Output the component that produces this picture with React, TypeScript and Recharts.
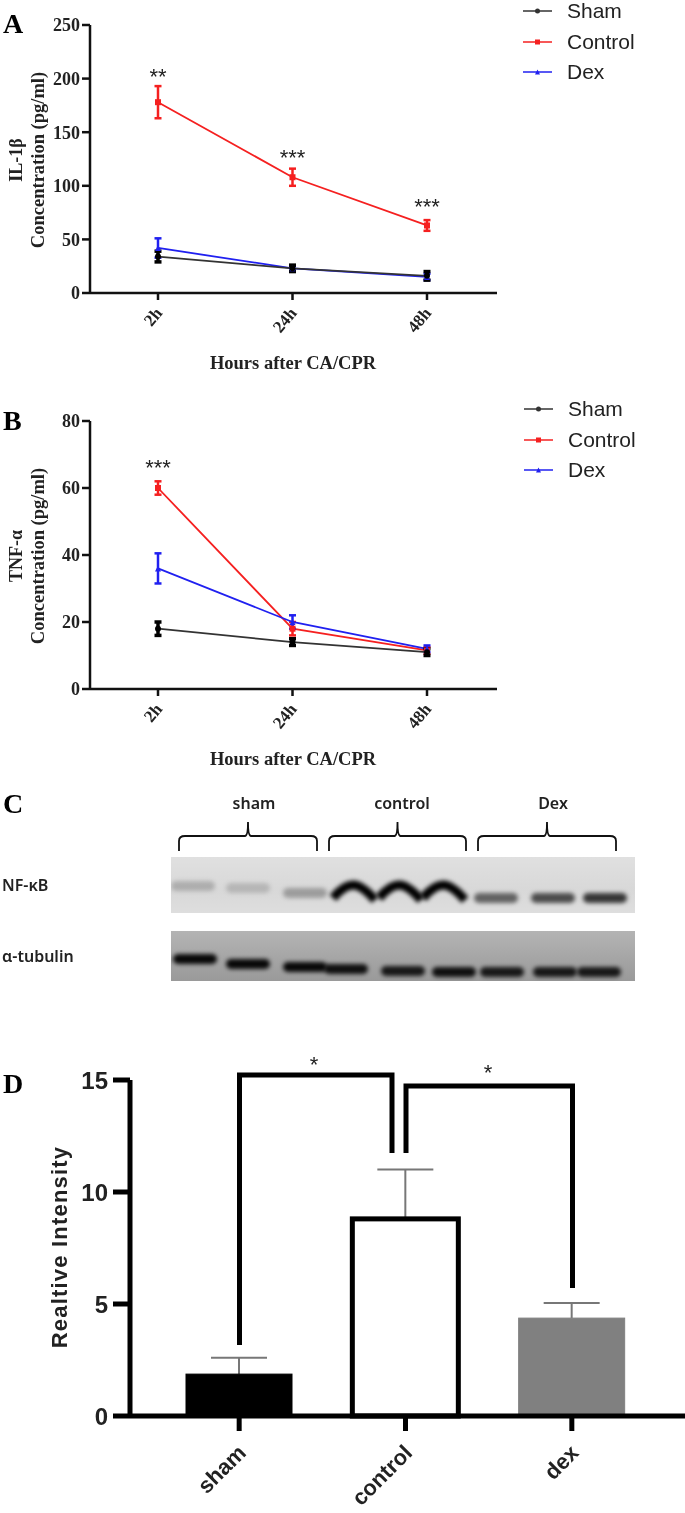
import { Bar, BarChart, ErrorBar, LabelList, Legend, Line, LineChart, Scatter, ScatterChart, XAxis, YAxis } from 'recharts';

const hours = ['2h', '24h', '48h'];

// panel A, IL-1beta
const il1Sham = [34, 23, 16];
const il1ShamErr = [5, 3, 4];
const il1Control = [178, 108, 63];
const il1ControlErr = [15, 8, 5];
const il1Dex = [42, 23, 15];
const il1DexErr = [9, 2, 3];
const il1Stars = ['**', '***', '***'];
const il1StarHeight = [203, 128, 82];

// panel B, TNF-alpha
const tnfSham = [18, 14, 11];
const tnfShamErr = [2, 1, 1];
const tnfControl = [60, 18, 11.5];
const tnfControlErr = [2, 2, 1];
const tnfDex = [36, 20, 12];
const tnfDexErr = [4.5, 2, 1];
const tnfStars = ['***', '', ''];
const tnfStarHeight = [66.7, 0, 0];

// panel C, band readings from the blot
const nfkbLanes = [193, 248, 305, 353, 399, 443, 496, 553, 605];
const nfkbMigration = [29, 31, 36, 33, 33, 33, 41, 41, 41];
const nfkbDarkness = [0.2, 0.16, 0.28, 1, 1, 1, 0.55, 0.65, 0.75];
const tubulinLanes = [195, 248, 305, 346, 403, 454, 502, 555, 599];
const tubulinMigration = [28, 33, 36, 38, 40, 41, 41, 41, 41];
const tubulinDarkness = [0.95, 0.95, 0.95, 0.9, 0.85, 0.9, 0.85, 0.85, 0.85];

// panel D
const groups = ['sham', 'control', 'dex'];
const intensity = [1.87, 8.8, 4.37];
const intensityErr = [0.73, 2.2, 0.68];

const legendOrder = ['Sham', 'Control', 'Dex'];

const il1Data = hours.map((h, i) => ({
  h,
  sham: il1Sham[i],
  shamErr: il1ShamErr[i],
  control: il1Control[i],
  controlErr: il1ControlErr[i],
  dex: il1Dex[i],
  dexErr: il1DexErr[i],
  stars: il1Stars[i],
  starHeight: il1StarHeight[i],
}));

const tnfData = hours.map((h, i) => ({
  h,
  sham: tnfSham[i],
  shamErr: tnfShamErr[i],
  control: tnfControl[i],
  controlErr: tnfControlErr[i],
  dex: tnfDex[i],
  dexErr: tnfDexErr[i],
  stars: tnfStars[i],
  starHeight: tnfStarHeight[i],
}));

const nfkbData = nfkbLanes.map((lane, i) => ({ lane, migration: nfkbMigration[i], darkness: nfkbDarkness[i] }));
const tubulinData = tubulinLanes.map((lane, i) => ({ lane, migration: tubulinMigration[i], darkness: tubulinDarkness[i] }));
const intensityData = groups.map((group, i) => ({ group, value: intensity[i], err: intensityErr[i] }));

const SERIF = '"Liberation Serif", serif';
const SANS = '"Liberation Sans", Arial, sans-serif';
const BLOT = '"Noto Sans", sans-serif';
const INK = '#222';
const RED = '#f52020';
const BLUE = '#2020f0';

const barFills = ['#000', '#fff', '#808080'];
const barStrokes = ['#000', '#000', '#808080'];

function marker(kind: string, cx: number, cy: number, color: string, r = 3) {
  if (kind === 'Control') return <rect x={cx - r} y={cy - r} width={r * 2} height={r * 2} fill={color} />;
  if (kind === 'Dex') return <path d={`M${cx} ${cy - r}L${cx + r} ${cy + r}L${cx - r} ${cy + r}Z`} fill={color} />;
  return <circle cx={cx} cy={cy} r={r} fill={color} />;
}

function LegendBox({ payload }: any) {
  const items = (payload || [])
    .filter((item: any) => legendOrder.includes(item.value))
    .sort((a: any, b: any) => legendOrder.indexOf(a.value) - legendOrder.indexOf(b.value));
  return (
    <div>
      {items.map((item: any) => (
        <div key={item.value} style={{ height: 30.5, display: 'flex', alignItems: 'center' }}>
          <svg width={44} height={12}>
            <line x1={0} y1={6} x2={29} y2={6} stroke={item.color} strokeWidth={1.5} />
            {marker(item.value, 14.5, 6, item.color, 2.5)}
          </svg>
          <span style={{ font: `21px ${SANS}`, color: INK }}>{item.value}</span>
        </div>
      ))}
    </div>
  );
}

function HourTick({ x, y, payload }: any) {
  return (
    <text
      transform={`translate(${x + 2},${y + 9}) rotate(-50)`}
      textAnchor="end"
      dominantBaseline="middle"
      style={{ font: `bold 17px ${SERIF}`, fill: INK }}
    >
      {payload.value}
    </text>
  );
}

function StarLabel({ x, y, value }: any) {
  if (!value) return null;
  return (
    <text x={x} y={y + 9} textAnchor="middle" style={{ font: `22px ${SANS}`, fill: INK }}>
      {value}
    </text>
  );
}

function TimeCourse({ top, data, domain, ticks, protein, legendLeft, legendTop }: any) {
  return (
    <div style={{ position: 'absolute', left: 0, top }}>
      <LineChart width={685} height={380} data={data} margin={{ top: 25, right: 188, bottom: 27, left: 40 }}>
        <XAxis
          dataKey="h"
          interval={0}
          padding={{ left: 68, right: 70 }}
          height={60}
          stroke="#111"
          strokeWidth={2.5}
          tickSize={7}
          tick={<HourTick />}
        />
        <YAxis
          width={50}
          domain={domain}
          ticks={ticks}
          stroke="#111"
          strokeWidth={2.5}
          tickSize={8}
          tickMargin={2}
          tick={{ style: { font: `bold 18px ${SERIF}`, fill: INK } }}
        />
        <Legend
          layout="horizontal"
          align="center"
          verticalAlign="middle"
          content={<LegendBox />}
          wrapperStyle={{ left: legendLeft, top: legendTop, width: 150 }}
        />
        <Line dataKey="starHeight" legendType="none" stroke="none" dot={false} isAnimationActive={false}>
          <LabelList dataKey="stars" content={<StarLabel />} />
        </Line>
        <Line dataKey="control" name="Control" stroke={RED} strokeWidth={1.8} isAnimationActive={false}
          dot={(p: any) => <g key={p.index}>{marker('Control', p.cx, p.cy, RED)}</g>}>
          <ErrorBar dataKey="controlErr" width={3.5} strokeWidth={2.5} stroke={RED} />
        </Line>
        <Line dataKey="dex" name="Dex" stroke={BLUE} strokeWidth={1.8} isAnimationActive={false}
          dot={(p: any) => <g key={p.index}>{marker('Dex', p.cx, p.cy, BLUE)}</g>}>
          <ErrorBar dataKey="dexErr" width={3.5} strokeWidth={2.5} stroke={BLUE} />
        </Line>
        <Line dataKey="sham" name="Sham" stroke="#333" strokeWidth={1.8} isAnimationActive={false}
          dot={(p: any) => <g key={p.index}>{marker('Sham', p.cx, p.cy, '#000')}</g>}>
          <ErrorBar dataKey="shamErr" width={3.5} strokeWidth={3.5} stroke="#000" />
        </Line>
        <text transform="translate(22,160) rotate(-90)" textAnchor="middle" style={{ font: `bold 18px ${SERIF}`, fill: INK }}>
          {protein}
        </text>
        <text transform="translate(44,160) rotate(-90)" textAnchor="middle" style={{ font: `bold 18.5px ${SERIF}`, fill: INK }}>
          Concentration (pg/ml)
        </text>
        <text x={293} y={369} textAnchor="middle" style={{ font: `bold 18.5px ${SERIF}`, fill: INK }}>
          Hours after CA/CPR
        </text>
      </LineChart>
    </div>
  );
}

function Band({ cx, cy, payload }: any) {
  // the three control lanes are overloaded and arch upwards
  if (payload.darkness === 1) {
    return (
      <path
        d={`M${cx - 20} ${cy + 8}Q${cx - 9} ${cy - 5} ${cx} ${cy - 5}Q${cx + 9} ${cy - 5} ${cx + 22} ${cy + 10}`}
        fill="none"
        stroke="#060606"
        strokeWidth={9}
        filter="url(#bandBlur)"
      />
    );
  }
  return <rect x={cx - 22} y={cy - 5} width={44} height={10} rx={5} fill="#000" fillOpacity={payload.darkness} filter="url(#bandBlur)" />;
}

function BlotRow({ top, height, data, background }: any) {
  return (
    <div style={{ position: 'absolute', left: 171, top, width: 464, height, background }}>
      <ScatterChart width={464} height={height} margin={{ top: 0, right: 0, bottom: 0, left: 0 }}>
        <defs>
          <filter id="bandBlur" x="-30%" y="-80%" width="160%" height="260%">
            <feGaussianBlur stdDeviation="2" />
          </filter>
        </defs>
        <XAxis type="number" dataKey="lane" domain={[171, 635]} hide />
        <YAxis type="number" dataKey="migration" domain={[0, height]} reversed hide />
        <Scatter data={data} shape={<Band />} isAnimationActive={false} />
      </ScatterChart>
    </div>
  );
}

function GroupTick({ x, y, payload }: any) {
  return (
    <text
      transform={`translate(${x + 4},${y + 17}) rotate(-45)`}
      textAnchor="end"
      dominantBaseline="middle"
      style={{ font: `bold 22px ${SANS}`, fill: INK }}
    >
      {payload.value}
    </text>
  );
}

// bar with its upper whisker drawn first, so the bar itself hides the lower half
function WhiskerBar({ x, y, width, height, payload, index }: any) {
  const cx = x + width / 2;
  const top = y - (payload.err * height) / payload.value;
  return (
    <g>
      <line x1={cx} y1={y} x2={cx} y2={top} stroke="#777" strokeWidth={2} />
      <line x1={cx - 28} y1={top} x2={cx + 28} y2={top} stroke="#777" strokeWidth={2} />
      <rect
        x={x}
        y={y}
        width={width}
        height={height}
        fill={barFills[index]}
        stroke={barStrokes[index]}
        strokeWidth={index === 1 ? 5 : 1}
      />
    </g>
  );
}

function brace(x1: number, x2: number) {
  const mid = x1 + (x2 - x1) / 2;
  return `M${x1} 851 V841 Q${x1} 836 ${x1 + 6} 836 H${mid - 3} Q${mid} 836 ${mid} 822 Q${mid} 836 ${mid + 3} 836 H${x2 - 6} Q${x2} 836 ${x2} 841 V851`;
}

export default function App() {
  return (
    <div style={{ position: 'absolute', left: 0, top: 0, width: 685, height: 1513, background: '#fff', overflow: 'hidden', filter: 'blur(0.4px)' }}>
      <TimeCourse top={0} data={il1Data} domain={[0, 250]} ticks={[0, 50, 100, 150, 200, 250]} protein="IL-1β" legendLeft={523} legendTop={-4} />
      <TimeCourse top={396} data={tnfData} domain={[0, 80]} ticks={[0, 20, 40, 60, 80]} protein="TNF-α" legendLeft={524} legendTop={-2} />

      <BlotRow top={857} height={56} data={nfkbData} background="linear-gradient(#e0e0e0, #d8d8d8 60%, #dedede)" />
      <BlotRow top={931} height={50} data={tubulinData} background="linear-gradient(#b4b4b4, #a4a4a4 60%, #9a9a9a)" />

      <div style={{ position: 'absolute', left: 0, top: 1040 }}>
        <BarChart width={685} height={473} data={intensityData} margin={{ top: 40, right: 0, bottom: 0, left: 0 }}>
          <XAxis
            dataKey="group"
            interval={0}
            height={97}
            padding={{ left: 26, right: 30 }}
            stroke="#000"
            strokeWidth={5}
            tickSize={15}
            tick={<GroupTick />}
          />
          <YAxis
            width={130}
            domain={[0, 15]}
            ticks={[0, 5, 10, 15]}
            stroke="#000"
            strokeWidth={5}
            tickSize={17}
            tickMargin={5}
            tick={{ style: { font: `bold 24px ${SANS}`, fill: INK } }}
          />
          <Bar dataKey="value" barSize={106} isAnimationActive={false} shape={<WhiskerBar />} />
          <text transform="translate(67,207) rotate(-90)" textAnchor="middle" style={{ font: `bold 22px ${SANS}`, letterSpacing: 1.2, fill: INK }}>
            Realtive Intensity
          </text>
        </BarChart>
      </div>

      {/* annotations that sit on top of the plots */}
      <svg width={685} height={1513} style={{ position: 'absolute', left: 0, top: 0, pointerEvents: 'none' }}>
        <g style={{ font: `bold 28px ${SERIF}`, fill: '#000' }}>
          <text x={3} y={33}>A</text>
          <text x={3} y={430}>B</text>
          <text x={3} y={813}>C</text>
          <text x={3} y={1093}>D</text>
        </g>
        <g style={{ font: `600 16px ${BLOT}`, fill: INK }} textAnchor="middle">
          <text x={254} y={809}>sham</text>
          <text x={402} y={809}>control</text>
          <text x={553} y={809}>Dex</text>
        </g>
        <g style={{ font: `600 16px ${BLOT}`, fill: INK }}>
          <text x={2} y={891}>NF-κB</text>
          <text x={2} y={962}>α-tubulin</text>
        </g>
        <g fill="none" stroke="#111" strokeWidth={1.8}>
          <path d={brace(179, 317)} />
          <path d={brace(329, 466)} />
          <path d={brace(478, 616)} />
        </g>
        <g fill="none" stroke="#000" strokeWidth={5}>
          <path d="M239.5 1345 V1075 H392 V1153" />
          <path d="M406 1153 V1086 H572.5 V1288" />
        </g>
        <g style={{ font: `22px ${SANS}`, fill: INK }} textAnchor="middle">
          <text x={314} y={1072}>*</text>
          <text x={488} y={1080}>*</text>
        </g>
      </svg>
    </div>
  );
}
